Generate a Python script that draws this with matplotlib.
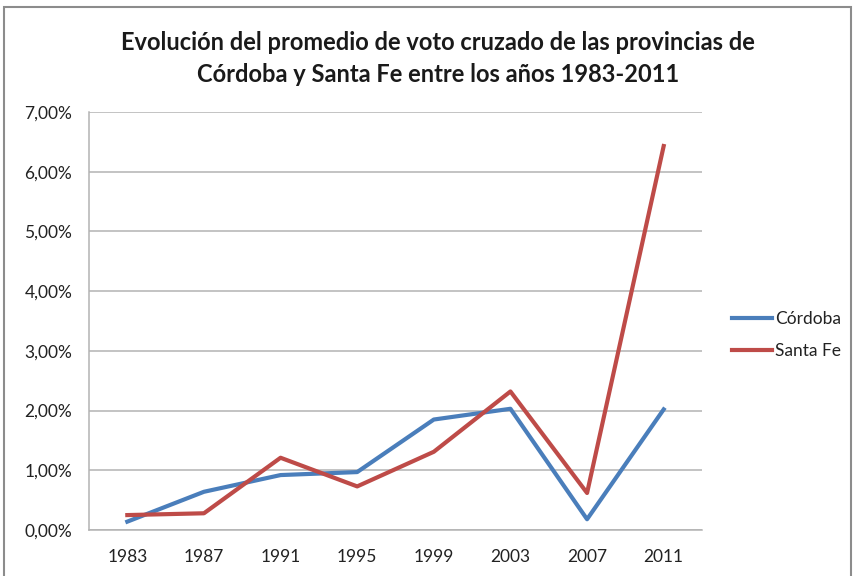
import numpy as np
import matplotlib.pyplot as plt
from matplotlib.patches import Rectangle

years = ["1983", "1987", "1991", "1995", "1999", "2003", "2007", "2011"]
cordoba = [0.14, 0.64, 0.92, 0.97, 1.85, 2.03, 0.18, 2.02]
santa_fe = [0.25, 0.28, 1.21, 0.73, 1.31, 2.32, 0.62, 6.43]
y_ticks = [0, 1, 2, 3, 4, 5, 6, 7]

plt.rcParams['font.family'] = ['Lato', 'DejaVu Sans']

W, H = 855, 576
fig = plt.figure(figsize=(W / 100, H / 100), dpi=100)
ax = fig.add_axes([89 / W, 1 - 530 / H, (702 - 89) / W, (530 - 112) / H])

# outer chart border
fig.patches.append(Rectangle((4 / W, -0.01), (851 - 4) / W, 1 - 7 / H + 0.01,
                             transform=fig.transFigure, fill=False,
                             edgecolor="#8c8c8c", linewidth=1.5))

x = np.arange(len(years))
ax.plot(x, cordoba, color="#4a7ebb", linewidth=3, label="Córdoba", zorder=3)
ax.plot(x, santa_fe, color="#be4b48", linewidth=3, label="Santa Fe", zorder=3)

ax.set_xlim(-0.5, len(years) - 0.5)
ax.set_ylim(0, 7)
ax.set_xticks(x)
ax.set_xticklabels(years)
ax.set_yticks(y_ticks)
ax.set_yticklabels([f"{v:.2f}%".replace(".", ",") for v in y_ticks])
ax.tick_params(length=0, labelsize=12.5, colors="#222222")
ax.tick_params(axis="x", pad=14)
ax.tick_params(axis="y", pad=12)

ax.grid(axis="y", color="#b3b3b3", linewidth=1.1)
ax.set_axisbelow(True)
for s in ["top", "right"]:
    ax.spines[s].set_visible(False)
for s in ["left", "bottom"]:
    ax.spines[s].set_color("#b3b3b3")
    ax.spines[s].set_linewidth(1.1)

fig.text(438 / W, 1 - 43 / H, "Evolución del promedio de voto cruzado de las provincias de",
         ha="center", va="center", fontsize=17, fontweight="bold", color="#1a1a1a")
fig.text(438 / W, 1 - 74 / H, "Córdoba y Santa Fe entre los años 1983-2011",
         ha="center", va="center", fontsize=17, fontweight="bold", color="#1a1a1a")

leg = fig.legend(loc="center left", bbox_to_anchor=(716 / W, 1 - 335 / H),
                 frameon=False, fontsize=12.5, handlelength=2.3,
                 handletextpad=0.2, labelspacing=0.95)
for t in leg.get_texts():
    t.set_color("#222222")

fig.savefig("out.png", dpi=100)
